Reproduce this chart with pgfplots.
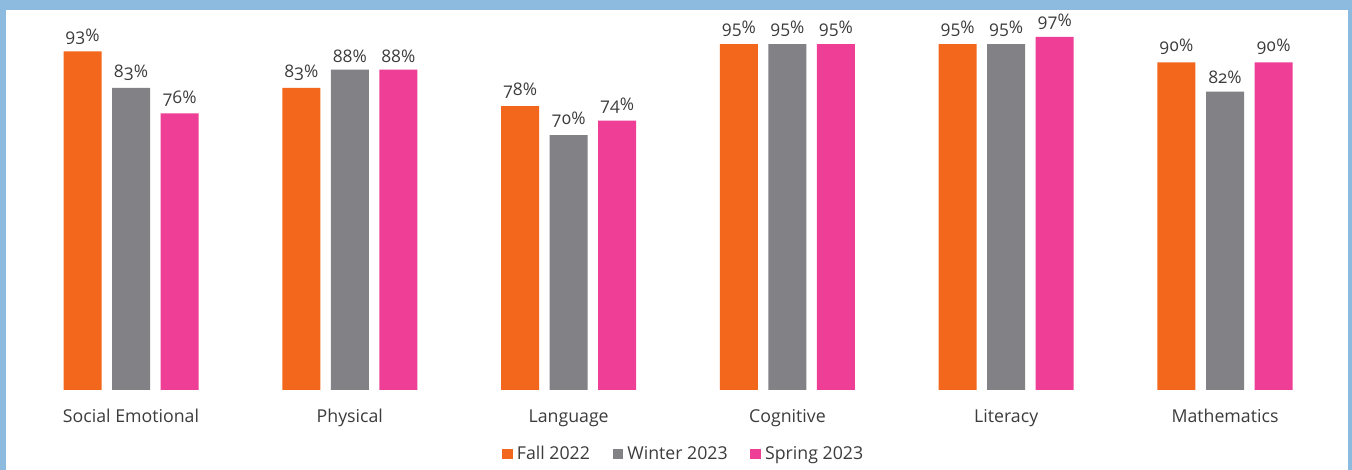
\documentclass[border=0pt]{standalone}
\usepackage{pgfplots}
\pgfplotsset{compat=1.18}
\usepackage{fontspec}
\setmainfont{Open Sans}
\newfontfamily\osf{Open Sans}[Numbers=OldStyle]
\definecolor{cOr}{RGB}{242,103,27}
\definecolor{cGr}{RGB}{130,129,134}
\definecolor{cPk}{RGB}{238,62,150}
\definecolor{cFrame}{RGB}{141,187,224}
\definecolor{cTxt}{RGB}{60,60,60}
\pgfplotstableread{
x fall winter spring
0 93 83 76
1 83 88 88
2 78 70 74
3 95 95 95
4 95 95 97
5 90 82 90
}\datatab
\begin{document}
\begin{tikzpicture}
\fill[cFrame] (0pt,0pt) rectangle (1014pt,352.5pt);
\fill[white] (4.5pt,0pt) rectangle (1011pt,345pt);
\begin{axis}[
  at={(8.025pt,60pt)}, anchor=south west,
  scale only axis, width=1001pt, height=273pt,
  xmin=-0.55, xmax=5.55, ymin=0, ymax=100,
  ybar=7.9pt, bar width=28.5pt,
  axis line style={draw=none}, major tick length=0pt,
  ytick=\empty,
  xtick={0,1,2,3,4,5},
  xticklabels={Social Emotional,Physical,Language,Cognitive,Literacy,Mathematics},
  xticklabel style={font=\fontsize{13.3}{15}\selectfont, text=cTxt, yshift=-11pt},
  /pgf/number format/assume math mode=true,
  nodes near coords={\pgfmathprintnumber{\pgfplotspointmeta}\%},
  every node near coord/.append style={font=\osf\fontsize{13}{15}\selectfont, text=cTxt, yshift=2pt},
  legend columns=3,
  legend style={at={(0.505,-0.176)}, anchor=center, draw=none, fill=none,
    font=\fontsize{13.3}{15}\selectfont, text=cTxt,
    /tikz/every even column/.append style={column sep=14pt},
    nodes={inner xsep=3pt}},
  legend image code/.code={\fill[#1] (0pt,-4pt) rectangle (8pt,4pt);},
]
\addplot[fill=cOr, draw=none] table[x=x,y=fall] {\datatab};
\addplot[fill=cGr, draw=none] table[x=x,y=winter] {\datatab};
\addplot[fill=cPk, draw=none] table[x=x,y=spring] {\datatab};
\legend{Fall 2022,Winter 2023,Spring 2023}
\end{axis}
\end{tikzpicture}
\end{document}
